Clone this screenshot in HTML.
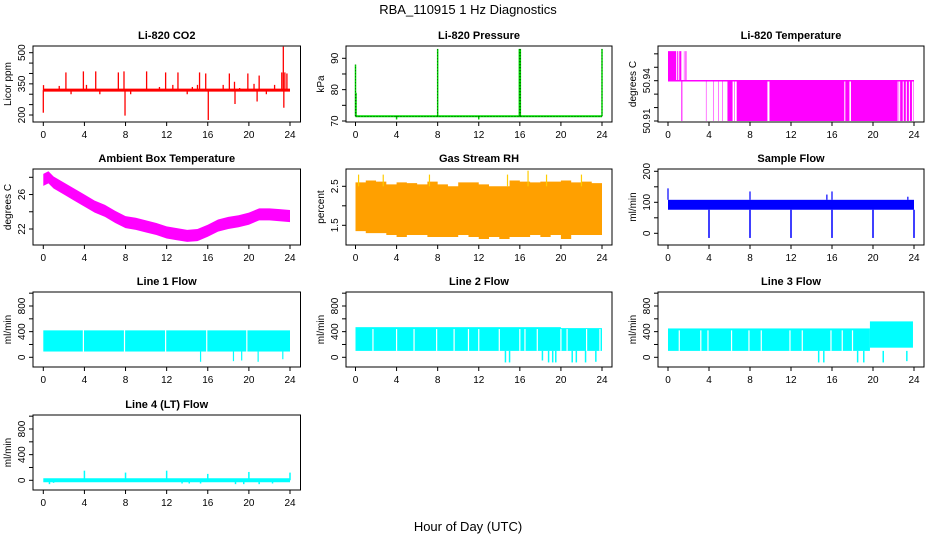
<!DOCTYPE html>
<html><head><meta charset="utf-8">
<style>
body{margin:0;background:#fff;}
svg{display:block;font-family:"Liberation Sans",sans-serif;}
</style></head>
<body>
<svg id="chart" width="936" height="540" viewBox="0 0 936 540" xmlns="http://www.w3.org/2000/svg">
<text x="468" y="14" font-size="13" text-anchor="middle">RBA_110915  1 Hz Diagnostics</text>
<text x="468" y="531" font-size="13" text-anchor="middle">Hour of Day (UTC)</text>
</svg>
<script>
// ---- data ----
const xTicks = [0,4,8,12,16,20,24];
const co2Base = 320;
const co2SpikeHours = [0.0,0.02,1.55,2.2,2.7,3.9,4.2,5.1,5.5,7.3,7.85,7.95,8.5,10.05,11.3,11.9,12.6,13.1,14.0,14.5,15.0,15.2,15.8,16.05,17.5,18.1,18.6,18.65,19.1,19.9,20.5,20.8,21.0,21.7,22.5,23.2,23.35,23.4,23.5,23.7];
const co2SpikeValues = [211,344,340,405,300,410,345,410,300,405,410,197,300,410,335,405,345,405,300,335,345,405,400,176,345,400,360,253,330,400,350,265,390,300,345,405,529,235,405,400];
const pressBase = 71.5;
const pressHours = [0,0.05,4.0,8.0,12,15.95,16.05,24];
const pressValues = [88,79,70.5,93,70.5,93,93,93];
const tempMid = 50.94, tempHigh = 50.962, tempLow = 50.91;
const tempHighStart = [0,0.9,1.1,1.55,1.7];
const tempHighEnd = [0.8,1.0,1.3,1.6,1.8];
const tempLowStart = [1.3,3.7,4.4,4.9,5.3,5.8,6.45,6.7,9.9,17.3,17.85,22.5,22.65,23.0,23.3,23.6,23.9];
const tempLowEnd = [1.4,3.75,4.45,4.95,5.35,6.3,6.5,9.7,17.2,17.7,22.4,22.55,22.9,23.2,23.5,23.8,23.95];
const ambHours = [0,0.5,1,2,3,4,5,6,7,8,9,10,11,12,13,14,15,16,17,18,19,20,21,22,23,24];
const ambCenter = [27.7,28.0,27.4,26.7,26.0,25.3,24.6,24.1,23.4,22.8,22.6,22.3,22.0,21.6,21.4,21.2,21.3,21.8,22.4,22.7,22.9,23.2,23.7,23.7,23.6,23.5];
const rhHours = [0,1,2,3,4,5,6,7,8,9,10,11,12,13,14,15,16,17,18,19,20,21,22,23,24];
const rhTop = [2.6,2.65,2.62,2.55,2.6,2.58,2.55,2.62,2.55,2.5,2.6,2.6,2.55,2.5,2.5,2.65,2.62,2.6,2.62,2.62,2.65,2.6,2.62,2.58,2.6];
const rhBot = [1.35,1.3,1.3,1.25,1.2,1.25,1.25,1.2,1.2,1.2,1.25,1.2,1.15,1.2,1.15,1.2,1.2,1.25,1.2,1.25,1.15,1.25,1.25,1.25,1.2];
const rhSpikeHours = [0.3,2.7,7.2,14.8,16.8,18.6,22.0];
const rhSpikeValues = [2.8,2.8,2.8,2.8,2.9,2.8,2.8];
const sampTop = 108, sampBot = 76;
const sampDipHours = [4,8,12,16,20,24];
const sampDipValues = [-15,-15,-15,-15,-15,-15];
const sampSpikeHours = [0,8,15.5,16,23.4];
const sampSpikeValues = [145,135,125,135,118];
const l1Top = 420, l1Bot = 90;
const l1GapHours = [3.9,7.9,11.9,15.9,19.8];
const l1DipHours = [15.3,18.5,19.3,20.9,23.3];
const l1DipValues = [-70,-60,-50,-70,-30];
const l2SegStart = [0,20], l2SegEnd = [20,24];
const l2SegTop = [470,455], l2SegBot = [100,100];
const l2GapHours = [1.7,4.0,5.7,7.9,9.6,11.0,12.0,14.0,16.0,16.5,17.7,20.0,20.6,22.5,23.8];
const l2DipHours = [14.6,15.0,18.2,18.8,19.2,19.5,21.1,21.5,22.4,23.4];
const l2DipValues = [-80,-80,-50,-80,-80,-80,-80,-80,-80,-70];
const l3SegStart = [0,19.7], l3SegEnd = [19.7,23.9];
const l3SegTop = [450,560], l3SegBot = [100,150];
const l3GapHours = [1.1,3.2,3.9,6.2,7.9,9.1,11.9,13.1,15.9,17.0,18.0];
const l3DipHours = [14.7,15.2,18.5,19.1,21.0,23.3];
const l3DipValues = [-80,-80,-80,-80,-80,-60];
const l4Base = 0;
const l4SpikeHours = [4,8,12,16,20,24];
const l4SpikeValues = [150,120,150,100,130,120];
const l4DipHours = [0.6,1.0,13.5,14.2,15.3,18.7,19.5,21.0,22.3];
const l4DipValues = [-60,-40,-50,-50,-50,-60,-60,-60,-50];

// ---- drawing ----
const NS = "http://www.w3.org/2000/svg";
const svg = document.getElementById('chart');
const cols = [{l:33,r:300.5,x0:43.3,x24:290},{l:346,r:612,x0:355.5,x24:602},{l:658,r:924,x0:668,x24:914}];
const rows = [{t:46,b:122},{t:169,b:245},{t:292,b:367},{t:415,b:490}];
let clipId = 0;

function mk(tag, attrs, parent){
  const el = document.createElementNS(NS, tag);
  for (const k in attrs) el.setAttribute(k, attrs[k]);
  (parent||svg).appendChild(el);
  return el;
}

function panel(ci, ri, key, title, ylab, ref, ticks, labels){
  const c = cols[ci], r = rows[ri];
  const g = mk('g', {});
  
  
  const sx = h => c.x0 + (c.x24 - c.x0) * h / 24;
  const sy = v => ref[1] + (v - ref[0]) * (ref[3] - ref[1]) / (ref[2] - ref[0]);
  const t = mk('text', {x:(c.l+c.r)/2, y:r.t-7, 'font-size':11, 'font-weight':'bold', 'text-anchor':'middle'}, g);
  t.textContent = title;
  
  
  const yl = mk('text', {x:c.l-22, y:(r.t+r.b)/2, 'font-size':10, 'text-anchor':'middle', transform:`rotate(-90 ${c.l-22} ${(r.t+r.b)/2})`}, g);
  yl.textContent = ylab;
  
  
  xTicks.forEach(h => {
    const tk = mk('line', {x1:sx(h), x2:sx(h), y1:r.b, y2:r.b+4, stroke:'#000'}, g);
    
    
    const tl = mk('text', {x:sx(h), y:r.b+16, 'font-size':10, 'text-anchor':'middle'}, g);
    tl.textContent = h;
    
    
  });
  ticks.forEach(v => {
    const tk = mk('line', {x1:c.l-4, x2:c.l, y1:sy(v), y2:sy(v), stroke:'#000'}, g);
    
    
  });
  labels.forEach(v => {
    const y = sy(v), x = c.l - 8;
    const tl = mk('text', {x:x, y:y, 'font-size':10, 'text-anchor':'middle', transform:`rotate(-90 ${x} ${y})`}, g);
    tl.textContent = v;
    
    
  });
  const id = 'clip' + (clipId++);
  const cp = mk('clipPath', {id:id}, g);
  mk('rect', {x:c.l, y:r.t, width:c.r-c.l, height:r.b-r.t}, cp);
  const data = mk('g', {'clip-path':`url(#${id})`}, g);
  
  
  const box = mk('rect', {x:c.l, y:r.t, width:c.r-c.l, height:r.b-r.t, fill:'none', stroke:'#000'}, g);
  
  
  return {sx, sy, g:data};
}
function vline(p, h, v1, v2, col, w, name){
  const el = mk('line', {x1:p.sx(h), x2:p.sx(h), y1:p.sy(v1), y2:p.sy(v2), stroke:col, 'stroke-width':w||1}, p.g);
  
  
  return el;
}
function band(p, h1, h2, v1, v2, col, name){
  const y1 = p.sy(v1), y2 = p.sy(v2);
  const el = mk('rect', {x:p.sx(h1), y:Math.min(y1,y2), width:p.sx(h2)-p.sx(h1), height:Math.abs(y2-y1), fill:col}, p.g);
  
  
  return el;
}
function hline(p, h1, h2, v, col, w, name){
  const el = mk('line', {x1:p.sx(h1), x2:p.sx(h2), y1:p.sy(v), y2:p.sy(v), stroke:col, 'stroke-width':w}, p.g);
  
  
  return el;
}

// CO2
let p = panel(0,0,'co2','Li-820 CO2','Licor ppm',[200,115,500,52.7],[200,250,300,350,400,450,500],[200,350,500]);
hline(p,0,24,co2Base,'#ff0000',3,'co2-baseline');
co2SpikeHours.forEach((h,i)=>vline(p,h,co2Base,co2SpikeValues[i],'#ff0000',1.3,'co2-spike'));

// Pressure
p = panel(1,0,'pressure','Li-820 Pressure','kPa',[70,121,90,58.3],[70,75,80,85,90],[70,80,90]);
hline(p,0,24,pressBase,'#00dd00',2,'pressure-baseline');
pressHours.forEach((h,i)=>vline(p,h,pressBase,pressValues[i],'#00dd00',1.5,'pressure-spike'));
hline(p,0,24,pressBase,'#000',0.7,'pressure-dotted').setAttribute('stroke-dasharray','1 2');
pressHours.forEach((h,i)=>vline(p,h,pressBase,pressValues[i],'#000',0.6,'pressure-dotted-spike').setAttribute('stroke-dasharray','1 2'));

// Li-820 Temperature
p = panel(2,0,'temperature','Li-820 Temperature','degrees C',[50.91,121,50.94,80.7],[50.91,50.92,50.93,50.94,50.95,50.96],[50.91,50.94]);
hline(p,0,24,tempMid,'#ff00ff',1.5,'temperature-mid-level');
tempHighStart.forEach((h,i)=>band(p,h,tempHighEnd[i],tempMid,tempHigh,'#ff00ff','temperature-high-block'));
tempLowStart.forEach((h,i)=>band(p,h,tempLowEnd[i],tempLow,tempMid,'#ff00ff','temperature-low-block'));

// Ambient Box Temperature
p = panel(0,1,'ambient','Ambient Box Temperature','degrees C',[22,229,28,177.3],[22,24,26,28],[22,26]);
{
  const up = ambHours.map((h,i)=>`${p.sx(h)},${p.sy(ambCenter[i]+0.7)}`);
  const dn = ambHours.map((h,i)=>`${p.sx(h)},${p.sy(ambCenter[i]-0.7)}`).reverse();
  const el = mk('polygon',{points:up.concat(dn).join(' '),fill:'#ff00ff'},p.g);
  
  
}

// Gas Stream RH
p = panel(1,1,'rh','Gas Stream RH','percent',[1.5,225.3,2.5,186.3],[1.5,2.0,2.5],[1.5,2.5]);
{
  const pts = [];
  rhHours.forEach((h,i)=>{ const h2 = Math.min(24, h+1); pts.push(`${p.sx(h)},${p.sy(rhTop[i])}`, `${p.sx(h2)},${p.sy(rhTop[i])}`); });
  const bot = [];
  rhHours.forEach((h,i)=>{ const h2 = Math.min(24, h+1); bot.push(`${p.sx(h)},${p.sy(rhBot[i])}`, `${p.sx(h2)},${p.sy(rhBot[i])}`); });
  const el = mk('polygon',{points:pts.concat(bot.reverse()).join(' '),fill:'#ffa000'},p.g);
  
  
  rhSpikeHours.forEach((h,i)=>vline(p,h,2.5,rhSpikeValues[i],'#ffcc00',1.2,'rh-spike'));
}

// Sample Flow
p = panel(2,1,'sample-flow','Sample Flow','ml/min',[0,233.3,200,171.3],[0,50,100,150,200],[0,100,200]);
band(p,0,24,sampBot,sampTop,'#0000ff','sample-flow-band');
sampDipHours.forEach((h,i)=>vline(p,h,sampBot,sampDipValues[i],'#0000ff',1.5,'sample-flow-dip'));
sampSpikeHours.forEach((h,i)=>vline(p,h,sampTop,sampSpikeValues[i],'#0000ff',1.2,'sample-flow-spike'));

const flowTicks = [0,200,400,600,800,1000], flowLabels = [0,400,800];
const cyan = '#00ffff';
// Line 1
p = panel(0,2,'line1-flow','Line 1 Flow','ml/min',[0,357.3,800,306],flowTicks,flowLabels);
band(p,0,24,l1Bot,l1Top,cyan,'line1-band');
l1GapHours.forEach(h=>vline(p,h,l1Bot,l1Top+20,'#fff',1.2,'line1-gap'));
l1DipHours.forEach((h,i)=>vline(p,h,l1Bot,l1DipValues[i],cyan,1.2,'line1-dip'));
// Line 2
p = panel(1,2,'line2-flow','Line 2 Flow','ml/min',[0,357.3,800,306],flowTicks,flowLabels);
l2SegStart.forEach((h,i)=>band(p,h,l2SegEnd[i],l2SegBot[i],l2SegTop[i],cyan,'line2-band'));
l2GapHours.forEach(h=>vline(p,h,100,440,'#fff',1.2,'line2-gap'));
l2DipHours.forEach((h,i)=>vline(p,h,100,l2DipValues[i],cyan,1.5,'line2-dip'));
// Line 3
p = panel(2,2,'line3-flow','Line 3 Flow','ml/min',[0,357.3,800,306],flowTicks,flowLabels);
l3SegStart.forEach((h,i)=>band(p,h,l3SegEnd[i],l3SegBot[i],l3SegTop[i],cyan,'line3-band'));
l3GapHours.forEach(h=>vline(p,h,100,420,'#fff',1.2,'line3-gap'));
l3DipHours.forEach((h,i)=>vline(p,h,100,l3DipValues[i],cyan,1.5,'line3-dip'));
// Line 4
p = panel(0,3,'line4-flow','Line 4 (LT) Flow','ml/min',[0,480.3,800,429],flowTicks,flowLabels);
hline(p,0,24,l4Base,cyan,4,'line4-baseline');
l4SpikeHours.forEach((h,i)=>vline(p,h,l4Base,l4SpikeValues[i],cyan,1.5,'line4-spike'));
l4DipHours.forEach((h,i)=>vline(p,h,l4Base,l4DipValues[i],cyan,1.5,'line4-dip'));
</script>
</body></html>
